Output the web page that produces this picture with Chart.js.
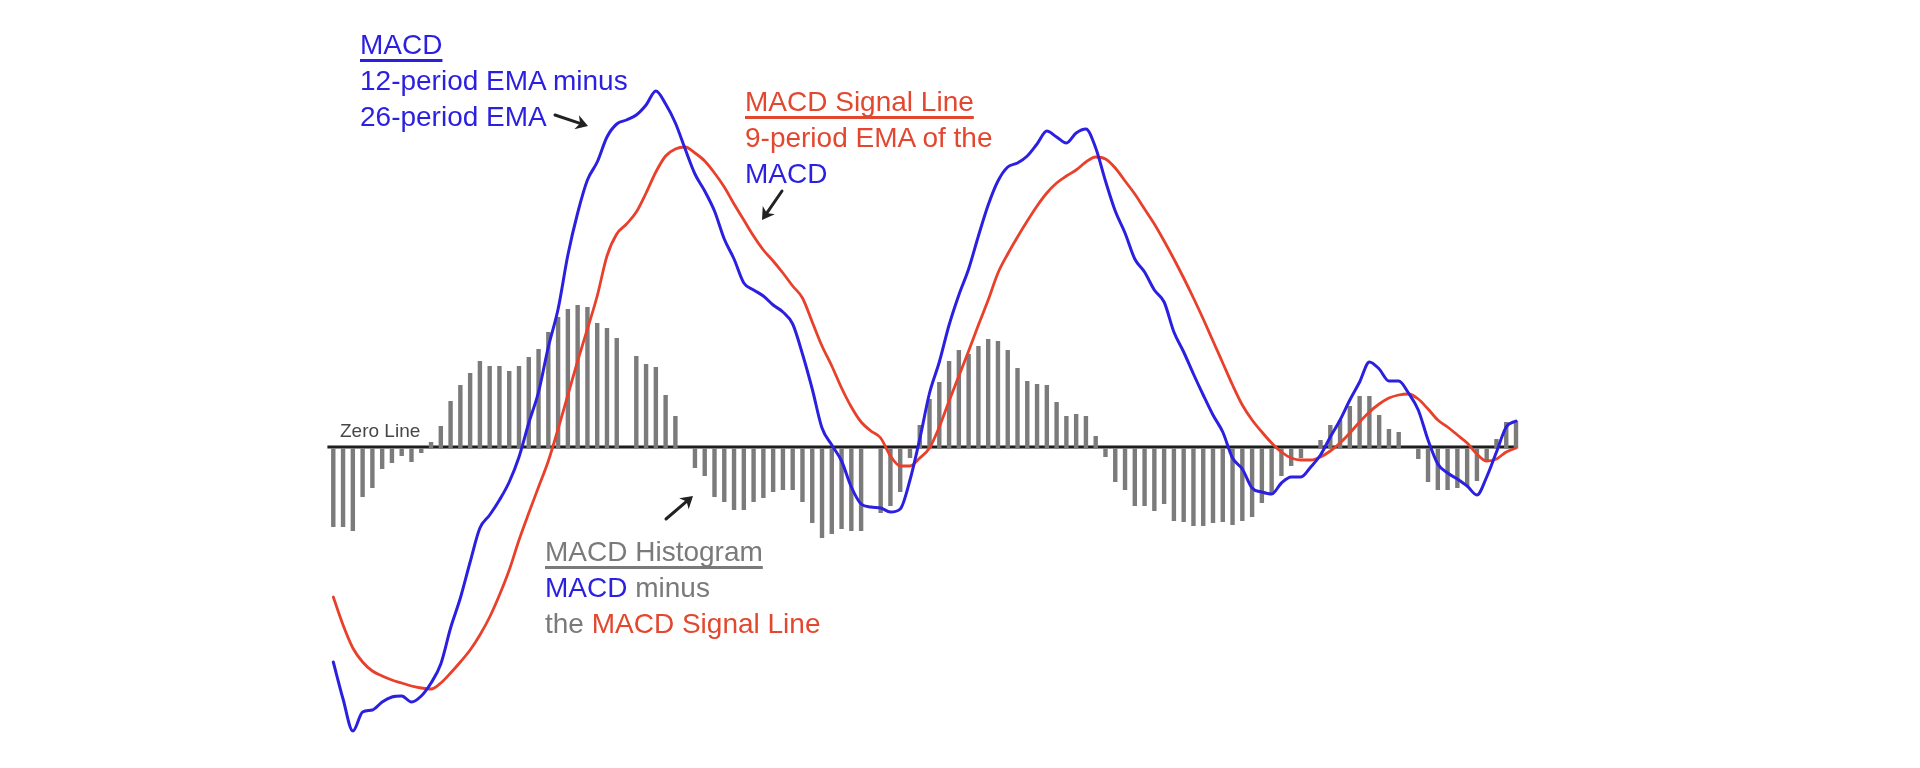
<!DOCTYPE html>
<html>
<head>
<meta charset="utf-8">
<title>MACD</title>
<script src="https://cdn.jsdelivr.net/npm/chart.js@4.4.0/dist/chart.umd.min.js"></script>
<style>
  html, body { margin: 0; padding: 0; background: #fff; overflow: hidden; }
  #chartBox { position: absolute; left: 0; top: 0; width: 1920px; height: 768px; }
  .note {
    position: absolute;
    font-family: "Liberation Sans", Arial, sans-serif;
    font-size: 28px;
    line-height: 36px;
    white-space: nowrap;
  }
  .note u {
    text-decoration: underline;
    text-decoration-thickness: 2.5px;
    text-underline-offset: 5px;
    text-decoration-skip-ink: none;
  }
  .blue { color: #2b1fe0; }
  .red { color: #e2472f; }
  .gray { color: #7a7a7a; }
  #zeroLabel { font-size: 19px; line-height: 19px; color: #474747; }
</style>
</head>
<body>
<div id="chartBox"><canvas id="macdChart"></canvas></div>

<div class="note blue" style="left:360px; top:27px"><u>MACD</u><br>12-period EMA minus<br>26-period EMA</div>
<div class="note red" style="left:745px; top:84px"><u>MACD Signal Line</u><br>9-period EMA of the<br><span class="blue">MACD</span></div>
<div class="note gray" style="left:545px; top:534px"><u>MACD Histogram</u><br><span class="blue">MACD</span> minus<br>the <span class="red">MACD Signal Line</span></div>
<div class="note" id="zeroLabel" style="left:340px; top:421px">Zero Line</div>

<script>
// periods along the x axis
const periods = [
    1, 2, 3, 4, 5, 6, 7, 8, 9, 10, 11, 12, 13, 14, 15, 16, 17, 18, 19, 20,
    21, 22, 23, 24, 25, 26, 27, 28, 29, 30, 31, 32, 33, 34, 35, 36, 37, 38, 39, 40,
    41, 42, 43, 44, 45, 46, 47, 48, 49, 50, 51, 52, 53, 54, 55, 56, 57, 58, 59, 60,
    61, 62, 63, 64, 65, 66, 67, 68, 69, 70, 71, 72, 73, 74, 75, 76, 77, 78, 79, 80,
    81, 82, 83, 84, 85, 86, 87, 88, 89, 90, 91, 92, 93, 94, 95, 96, 97, 98, 99, 100,
    101, 102, 103, 104, 105, 106, 107, 108, 109, 110, 111, 112, 113, 114, 115, 116, 117, 118, 119, 120,
    121, 122
];

// MACD line (12 EMA - 26 EMA)
const macdLine = [
    -215, -252, -284, -265, -263, -255, -250, -249, -255, -249,
    -236, -217, -181, -151, -115, -81, -68, -53, -35, -10,
    24, 55, 100, 138, 192, 234, 267, 285, 310, 323,
    327, 332, 342, 356, 343, 324, 298, 273, 256, 236,
    208, 188, 164, 157, 151, 142, 135, 123, 93, 58,
    19, 2, -14, -40, -57, -60, -61, -65, -62, -33,
    8, 54, 85, 122, 152, 178, 211, 242, 266, 280,
    284, 291, 303, 316, 310, 304, 314, 318, 299, 266,
    236, 214, 188, 175, 157, 145, 115, 95, 73, 52,
    32, 15, -11, -22, -41, -45, -47, -36, -30, -30,
    -20, -8, 10, 27, 47, 65, 85, 78, 66, 66,
    54, 37, 7, -17, -26, -32, -39, -48, -30, -5,
    20, 26
];

// signal line (9 EMA of MACD)
const signalLine = [
    -150, -178, -201, -215, -224, -229, -233, -236, -239, -241,
    -242, -236, -226, -215, -203, -188, -170, -148, -123, -93,
    -66, -40, -14, 18, 52, 86, 118, 151, 191, 213,
    223, 235, 254, 275, 291, 298, 300, 294, 286, 274,
    260, 243, 227, 211, 197, 186, 174, 161, 149, 125,
    101, 81, 59, 40, 25, 16, 9, -9, -19, -19,
    -11, -1, 20, 46, 71, 96, 122, 147, 174, 193,
    210, 226, 241, 254, 264, 271, 277, 285, 290, 288,
    279, 266, 253, 238, 223, 206, 188, 169, 149, 128,
    106, 84, 62, 42, 27, 15, 4, -5, -11, -13,
    -13, -10, -4, 4, 14, 25, 35, 43, 49, 52,
    53, 48, 38, 27, 20, 12, 4, -7, -14, -12,
    -5, -1
];

// histogram (MACD - signal), null where no bar is drawn
const histogram = [
    -80, -80, -84, -50, -41, -22, -16, -9, -15, -6,
    5, 21, 46, 62, 74, 86, 81, 81, 76, 81,
    90, 98, 115, 130, 138, 142, 140, 124, 119, 109,
    null, 91, 83, 80, 52, 31, null, -21, -29, -50,
    -55, -63, -63, -55, -51, -45, -43, -43, -55, -76,
    -91, -87, -82, -84, -84, null, -66, -59, -45, -11,
    22, 48, 65, 86, 97, 93, 101, 108, 106, 97,
    79, 66, 63, 62, 45, 31, 33, 31, 11, -10,
    -35, -43, -59, -59, -64, -57, -74, -75, -79, -79,
    -76, -75, -78, -74, -70, -56, -48, -29, -19, -11,
    null, 7, 22, 27, 41, 51, 51, 32, 18, 15,
    null, -12, -35, -43, -43, -41, -39, -34, -14, 8,
    25, 26
];

// little pointer arrows next to the notes (canvas pixels)
const arrows = [
    { from: [555, 115], to: [588, 126] },
    { from: [782, 191], to: [762, 220] },
    { from: [666, 519], to: [693, 496] }
];

const zeroLinePlugin = {
    id: 'zeroLine',
    beforeDatasetsDraw(chart) {
        const { ctx, chartArea, scales } = chart;
        const y0 = scales.y.getPixelForValue(0);
        ctx.save();
        ctx.strokeStyle = '#1e1e1e';
        ctx.lineWidth = 3;
        ctx.beginPath();
        ctx.moveTo(chartArea.left - 1, y0);
        ctx.lineTo(chartArea.right - 4, y0);
        ctx.stroke();
        ctx.restore();
    }
};

function drawArrow(ctx, x1, y1, x2, y2) {
    const angle = Math.atan2(y2 - y1, x2 - x1);
    const head = 14;
    const spread = 0.55;
    ctx.beginPath();
    ctx.moveTo(x1, y1);
    ctx.lineTo(x2 - Math.cos(angle) * head * 0.6, y2 - Math.sin(angle) * head * 0.6);
    ctx.stroke();
    ctx.beginPath();
    ctx.moveTo(x2, y2);
    ctx.lineTo(x2 - head * Math.cos(angle - spread), y2 - head * Math.sin(angle - spread));
    ctx.lineTo(x2 - head * 0.6 * Math.cos(angle), y2 - head * 0.6 * Math.sin(angle));
    ctx.lineTo(x2 - head * Math.cos(angle + spread), y2 - head * Math.sin(angle + spread));
    ctx.closePath();
    ctx.fill();
}

const arrowPlugin = {
    id: 'arrows',
    afterDatasetsDraw(chart) {
        const ctx = chart.ctx;
        ctx.save();
        ctx.strokeStyle = '#222';
        ctx.fillStyle = '#222';
        ctx.lineWidth = 3;
        ctx.lineCap = 'round';
        arrows.forEach(a => drawArrow(ctx, a.from[0], a.from[1], a.to[0], a.to[1]));
        ctx.restore();
    }
};

document.addEventListener('DOMContentLoaded', function() {
    const macdCtx = document.getElementById('macdChart').getContext('2d');

    new Chart(macdCtx, {
        type: 'bar',
        data: {
            labels: periods,
            datasets: [
                {
                    type: 'line',
                    label: 'MACD',
                    data: macdLine,
                    borderColor: '#2b1fe0',
                    borderWidth: 3,
                    pointRadius: 0,
                    cubicInterpolationMode: 'monotone',
                    borderJoinStyle: 'round',
                    borderCapStyle: 'round',
                    order: 1
                },
                {
                    type: 'line',
                    label: 'MACD Signal Line',
                    data: signalLine,
                    borderColor: '#e8402a',
                    borderWidth: 2.8,
                    pointRadius: 0,
                    cubicInterpolationMode: 'monotone',
                    borderJoinStyle: 'round',
                    borderCapStyle: 'round',
                    order: 2
                },
                {
                    type: 'bar',
                    label: 'MACD Histogram',
                    data: histogram,
                    backgroundColor: '#7b7b7b',
                    base: -1.5,
                    barPercentage: 0.45,
                    categoryPercentage: 1,
                    order: 3
                }
            ]
        },
        options: {
            responsive: true,
            maintainAspectRatio: false,
            animation: false,
            events: [],
            layout: {
                autoPadding: false,
                padding: { left: 328.4, right: 399.1, top: 0, bottom: 0 }
            },
            plugins: {
                legend: { display: false },
                tooltip: { enabled: false }
            },
            scales: {
                x: { display: false, offset: true },
                y: { display: false, min: -321, max: 447 }
            }
        },
        plugins: [zeroLinePlugin, arrowPlugin]
    });
});
</script>
</body>
</html>
